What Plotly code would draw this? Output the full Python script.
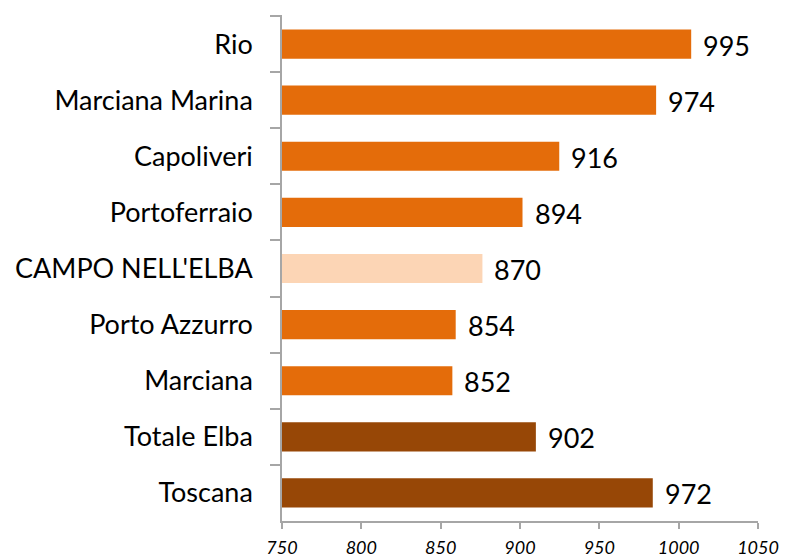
import plotly.graph_objects as go

categories = ["Rio", "Marciana Marina", "Capoliveri", "Portoferraio", "CAMPO NELL'ELBA",
              "Porto Azzurro", "Marciana", "Totale Elba", "Toscana"]
values = [995, 974, 916, 894, 870, 854, 852, 902, 972]
colors = ["#E46C0A", "#E46C0A", "#E46C0A", "#E46C0A", "#FCD5B5",
          "#E46C0A", "#E46C0A", "#974706", "#974706"]
x_ticks = [750, 800, 850, 900, 950, 1000, 1050]
bar_range = [750, 1035]   # scale on which the reference draws its bars
tick_range = [750, 1050]  # scale of the printed axis labels

FONT = "Lato"
AXIS = "#A6A6A6"

fig = go.Figure()
fig.add_trace(go.Bar(
    x=[v - 750 for v in values], base=750, y=categories, orientation="h",
    xaxis="x2", yaxis="y",
    marker=dict(color=colors, line=dict(width=0)),
    hoverinfo="skip",
))
# invisible anchor trace so the labelled axis is drawn
fig.add_trace(go.Scatter(x=[x_ticks[0]], y=[categories[0]], xaxis="x", yaxis="y",
                         mode="markers", opacity=0, hoverinfo="skip", showlegend=False))

for c, v in zip(categories, values):
    fig.add_annotation(x=v, y=c, xref="x2", yref="y", text=str(v), showarrow=False,
                       xanchor="left", xshift=10, yshift=-1,
                       font=dict(family=FONT, size=27, color="black"))

fig.update_layout(
    width=808, height=559,
    margin=dict(l=282, r=50, t=15, b=38),
    plot_bgcolor="white", paper_bgcolor="white",
    bargap=0.48, showlegend=False,
    xaxis=dict(range=tick_range, tickvals=x_ticks, ticks="outside", ticklen=6,
               tickcolor=AXIS, tickwidth=1.5, showline=True, linecolor=AXIS, linewidth=1.5,
               showgrid=False, zeroline=False, automargin=False, ticklabelstandoff=4,
               tickfont=dict(family=FONT, size=18, color="black", style="italic")),
    xaxis2=dict(range=bar_range, overlaying="x", visible=False, showgrid=False,
                zeroline=False),
    yaxis=dict(categoryorder="array", categoryarray=categories, autorange="reversed",
               ticks="outside", tickson="boundaries", ticklen=10, tickcolor=AXIS, tickwidth=1.5,
               showline=True, linecolor=AXIS, linewidth=1.5, showgrid=False,
               ticklabelstandoff=22, automargin=False,
               tickfont=dict(family=FONT, size=27, color="black")),
)

fig.write_html("out.html", config={"displayModeBar": False},
               post_script="document.body.style.margin='0';document.body.style.overflow='hidden';")
